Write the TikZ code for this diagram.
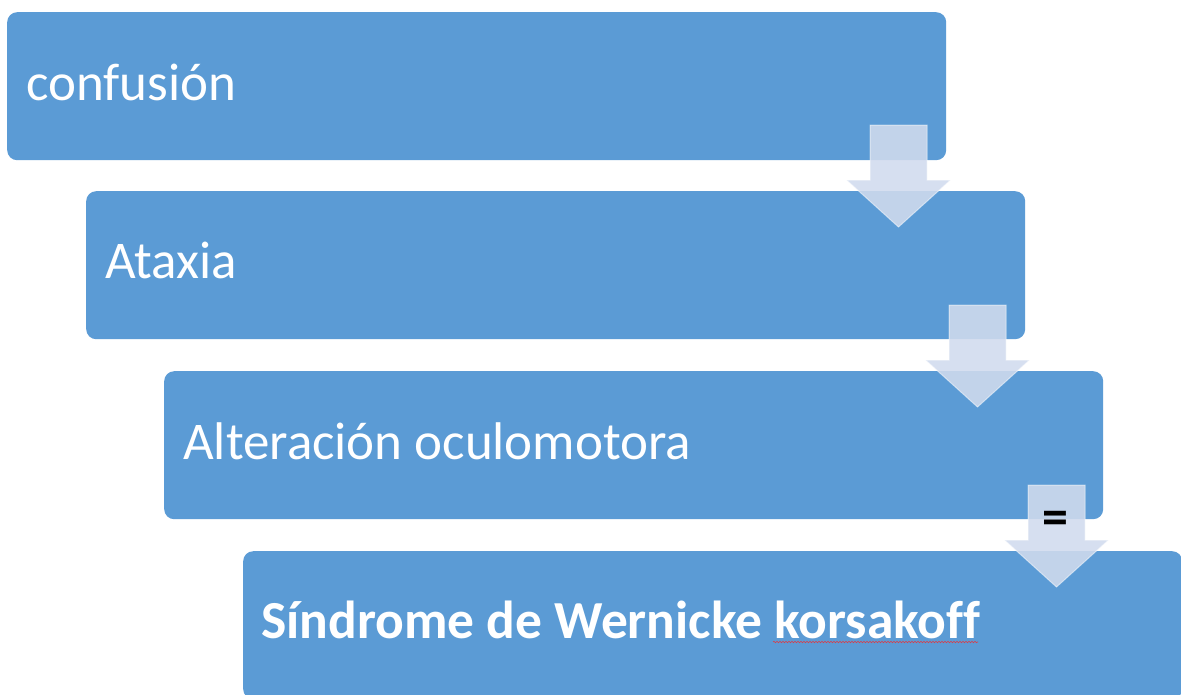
\documentclass[tikz,border=0pt]{standalone}
\usepackage{fontspec}
\setmainfont{Carlito}[Ligatures={NoCommon}]
\usetikzlibrary{decorations.pathmorphing}
\definecolor{boxblue}{HTML}{5B9BD5}
\definecolor{arrfill}{RGB}{209,219,238}
\definecolor{spellred}{RGB}{220,60,70}
\begin{document}
\begin{tikzpicture}[x=1pt,y=-1pt,
  box/.style={anchor=north west, fill=boxblue, rounded corners=10pt,
    minimum width=939pt, minimum height=148pt, inner sep=0pt},
  boxtext/.style={anchor=base west, text=white, inner sep=0pt,
    font=\fontsize{53}{62}\selectfont},
  arr/.style={fill=arrfill, fill opacity=0.88, draw=white, draw opacity=0.5, line width=1pt},
  downarr/.pic={\path[arr] (-28.5,0) -- (28.5,0) -- (28.5,55) -- (52,55) -- (0,102) -- (-52,55) -- (-28.5,55) -- cycle;}]
\useasboundingbox (0,0) rectangle (1181,694);
\clip (0,0) rectangle (1181,694);
\fill[white] (0,0) rectangle (1181,694);
\node[box] (b1) at (7,12) {};
\node[box] (b2) at (86,191) {};
\node[box] (b3) at (164,371) {};
\node[box] (b4) at (243,551) {};
\node[boxtext] (t1) at ([xshift=19pt,yshift=-14pt]b1.west) {confusión};
\node[boxtext] (t2) at ([xshift=19pt,yshift=-13pt]b2.west) {Ataxia};
\node[boxtext] (t3) at ([xshift=19pt,yshift=-14pt]b3.west) {Alteración oculomotora};
\node[boxtext, font=\fontsize{53.5}{62}\selectfont\bfseries] (t4) at ([xshift=18pt,yshift=-13pt]b4.west) {Síndrome de Wernicke korsakoff};
\pic at (898.5,125) {downarr};
\pic at (977.5,305) {downarr};
\pic at (1056.5,485) {downarr};
\node[font=\fontsize{52}{60}\selectfont\bfseries, text=black, inner sep=0pt] (eq) at (1055,523) {=};
\coordinate (u1) at (773,642);
\coordinate (u2) at (978,642);
\draw[spellred, line width=0.6pt, decorate, decoration={snake, amplitude=0.7pt, segment length=3pt}] (u1) -- (u2);
\end{tikzpicture}
\end{document}
